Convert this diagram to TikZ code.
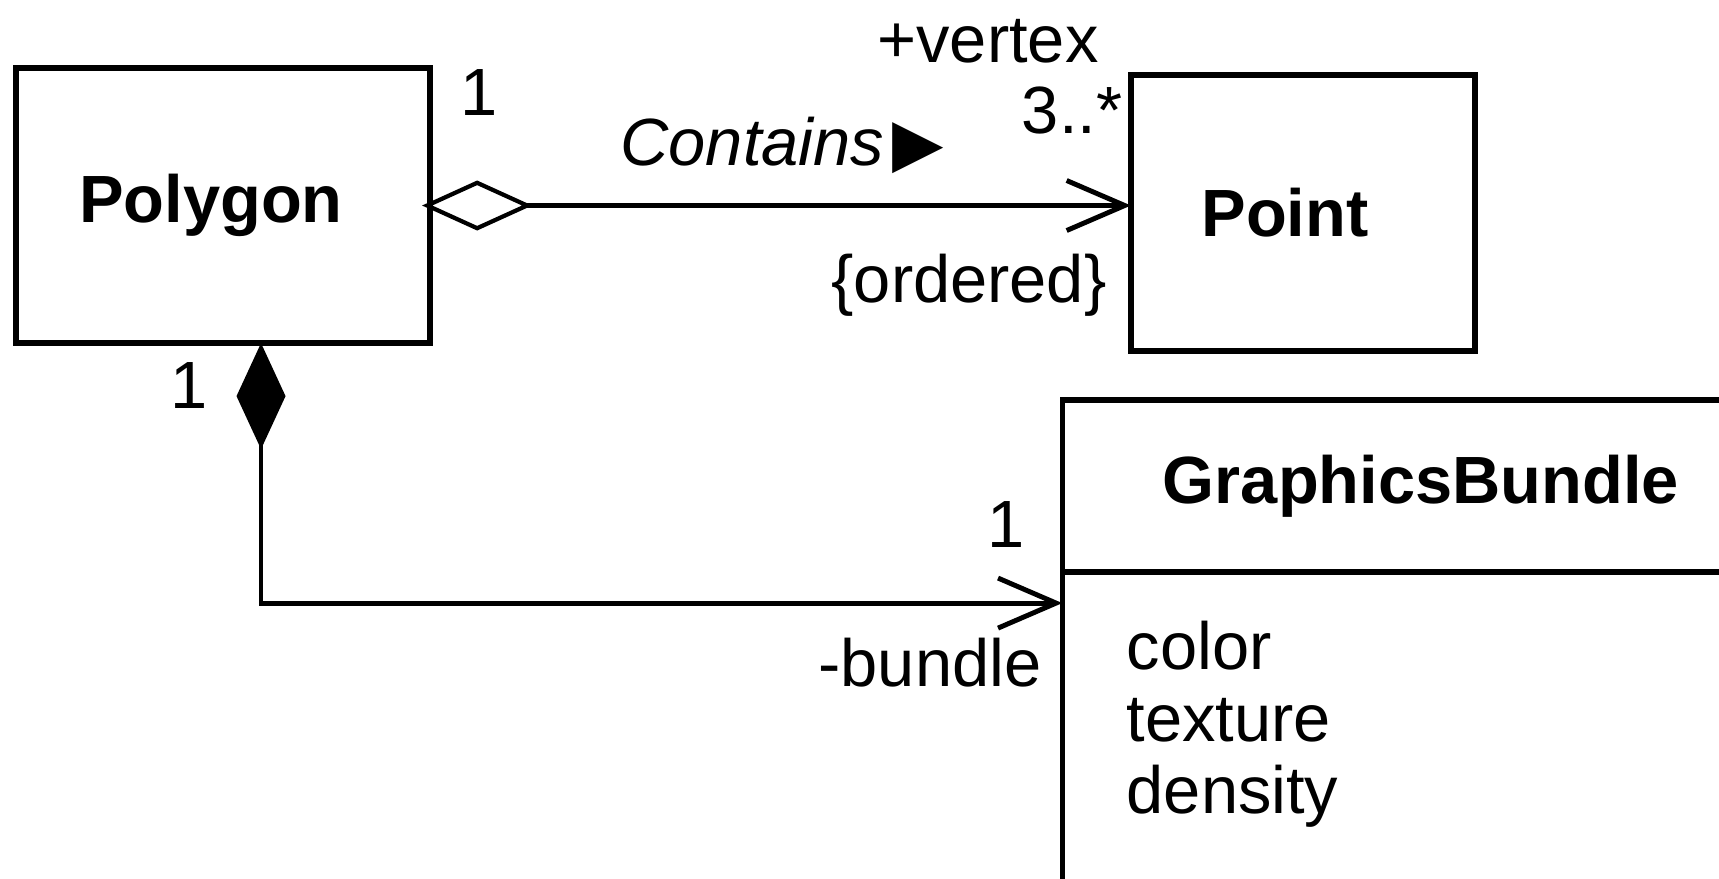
\documentclass[tikz,border=0pt]{standalone}
\usepackage{fontspec}
\setmainfont{Liberation Sans}
\newfontfamily\symbolfont{DejaVu Sans}
\usetikzlibrary{arrows.meta,positioning,calc}

\tikzset{
  classbox/.style = {draw, line width=1.5pt, inner sep=0pt, outer sep=0pt,
    font=\fontsize{19}{20.4}\selectfont\bfseries},
  assoc/.style = {line width=1.4pt},
  rolelabel/.style = {inner sep=0pt},
  hollowdiamond/.tip = {Diamond[open,fill=white,length=1.1cm,width=0.5cm,line width=1.2pt]},
  soliddiamond/.tip = {Diamond[length=1.06cm,width=0.49cm]},
  navarrow/.tip = {Straight Barb[length=0.58cm,width=0.5cm,line width=1.4pt]}
}

\begin{document}
\begin{tikzpicture}[x=0.01cm, y=-0.01cm,
    every node/.style = {font=\fontsize{19}{20.4}\selectfont}]
  \useasboundingbox (0,0) rectangle (1719,878);
  \clip (0,0) rectangle (1719,878);

  % classes
  \node[classbox, minimum width=4.14cm, minimum height=2.75cm] (poly) at (223,205.5) {\kern-0.24cm Polygon};
  \node[classbox, minimum width=3.44cm, minimum height=2.76cm] (point) at (1303,213) {\kern-0.36cm Point};
  \node[classbox, minimum width=7.17cm, minimum height=1.72cm] (bundle) at (1421,486) {GraphicsBundle};
  \node[classbox, anchor=north, minimum width=7.17cm, minimum height=3.4cm] (bundleattrs) at (bundle.south) {};
  \node[rolelabel, anchor=west, align=left] (attrlist) at (1126,724) {color\\texture\\density};

  % aggregation Polygon -> Point
  \draw[assoc, hollowdiamond-navarrow] ([xshift=-0.08cm]poly.east) -- (poly.east -| point.west);
  \node[rolelabel] (polymult) at (479,93) {1};
  \node[rolelabel] (assocname) at (782,145) {\textit{Contains}\kern0.08cm{\symbolfont ▶}};
  \node[rolelabel] (vertexrole) at (988,41) {+vertex};
  \node[rolelabel] (vertexmult) at (1072,110) {3..*};
  \node[rolelabel] (ordered) at (969,285) {\{ordered\}};

  % composition Polygon -> GraphicsBundle
  \draw[assoc, soliddiamond-navarrow] ([xshift=0.38cm]poly.south) |- ([yshift=-0.31cm]bundle.south west);
  \node[rolelabel] (compmult) at (189,386) {1};
  \node[rolelabel] (bundlemult) at (1006,524) {1};
  \node[rolelabel] (bundlerole) at (930,663) {-bundle};
\end{tikzpicture}
\end{document}
